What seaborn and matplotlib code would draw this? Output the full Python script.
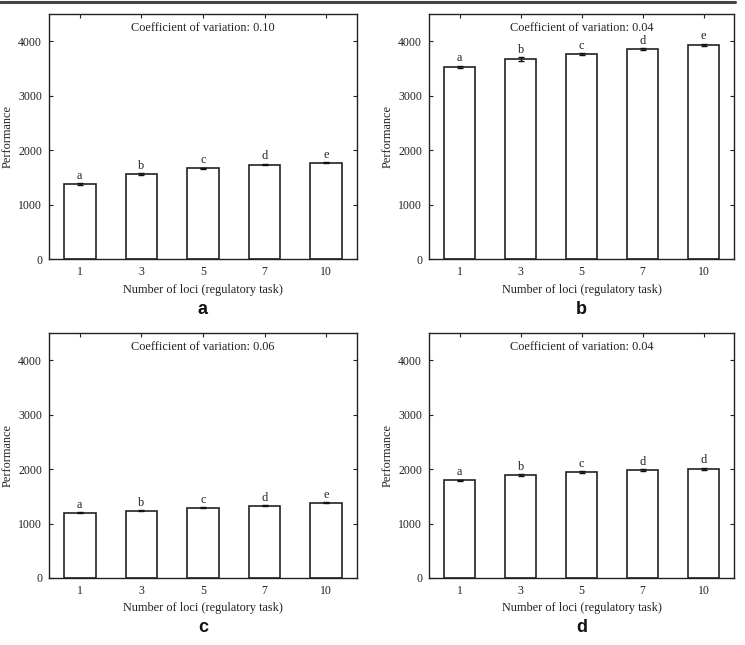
import matplotlib

matplotlib.use("Agg")
import matplotlib.pyplot as plt
import pandas as pd
import seaborn as sns

loci = ["1", "3", "5", "7", "10"]

perf_a = [1372, 1562, 1663, 1734, 1767]
err_a = [18, 15, 12, 14, 12]
groups_a = ["a", "b", "c", "d", "e"]

perf_b = [3528, 3668, 3766, 3852, 3938]
err_b = [22, 40, 18, 18, 18]
groups_b = ["a", "b", "c", "d", "e"]

perf_c = [1202, 1234, 1290, 1331, 1381]
err_c = [8, 12, 12, 8, 12]
groups_c = ["a", "b", "c", "d", "e"]

perf_d = [1792, 1893, 1942, 1977, 2005]
err_d = [15, 18, 15, 18, 20]
groups_d = ["a", "b", "c", "d", "d"]

cv_labels = ["0.10", "0.04", "0.06", "0.04"]
panel_labels = ["a", "b", "c", "d"]

sns.set_theme(style="ticks")
plt.rcParams["font.family"] = ["Liberation Serif", "DejaVu Serif"]

fig = plt.figure(figsize=(7.45, 6.45), dpi=100)
W, H = 745, 645
# axes boxes in pixels: left, top, right, bottom
boxes = [(49, 14, 357, 259), (429, 14, 734, 259), (49, 333, 357, 578), (429, 333, 734, 578)]

panels = [
    (perf_a, err_a, groups_a),
    (perf_b, err_b, groups_b),
    (perf_c, err_c, groups_c),
    (perf_d, err_d, groups_d),
]

for (perf, err, groups), (l, t, r, b), cv, lab in zip(panels, boxes, cv_labels, panel_labels):
    ax = fig.add_axes([l / W, 1 - b / H, (r - l) / W, (b - t) / H])
    frame = pd.DataFrame({"loci": loci, "performance": perf})
    sns.barplot(data=frame, x="loci", y="performance", order=loci, color="white",
                edgecolor="#222222", linewidth=1.2, width=0.51, errorbar=None, ax=ax)
    ax.errorbar(range(len(loci)), perf, yerr=err, fmt="none", ecolor="#111111",
                elinewidth=1.0, capsize=2.2, capthick=1.0)
    for i, (p, e, g) in enumerate(zip(perf, err, groups)):
        ax.text(i, p + e + 25, g, ha="center", va="bottom", fontsize=8.8, color="#222222")
    ax.set_ylim(0, 4500)
    ax.set_xlim(-0.5, 4.5)
    ax.set_yticks([0, 1000, 2000, 3000, 4000])
    ax.tick_params(direction="in", top=True, right=True, length=3, width=0.8,
                   labelsize=8.5, colors="#222222", pad=5)
    for s in ax.spines.values():
        s.set_linewidth(1.0)
        s.set_color("#222222")
    ax.set_xlabel("Number of loci (regulatory task)", fontsize=8.8, color="#222222", labelpad=4)
    ax.set_ylabel("Performance", fontsize=8.8, color="#222222", labelpad=3)
    ax.text(0.5, 0.943, f"Coefficient of variation: {cv}", transform=ax.transAxes,
            ha="center", va="center", fontsize=8.8, color="#222222")
    cx = (l + r) / 2 / W
    fig.text(cx, 1 - (b + 50) / H, lab, ha="center", va="center", fontsize=13,
             fontweight="bold", family="Liberation Sans", color="#111111")

fig.add_artist(plt.Line2D([0, 735 / W], [1 - 1.5 / H, 1 - 1.5 / H], color="#444444", linewidth=2.2))

fig.savefig("out.png", dpi=100)
